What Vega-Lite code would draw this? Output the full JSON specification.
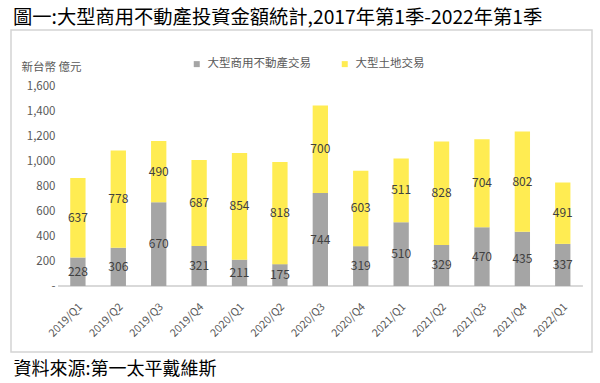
{
  "$schema": "https://vega.github.io/schema/vega-lite/v6.json",
  "width": 581,
  "height": 322,
  "autosize": {"type": "none"},
  "padding": {"left": 11, "top": 30, "right": 8, "bottom": 31},
  "background": "white",
  "config": {
    "font": "Noto Sans CJK TC",
    "view": {"stroke": "#D4D4D4", "strokeWidth": 1.5}
  },
  "title": {
    "text": "圖一:大型商用不動產投資金額統計,2017年第1季-2022年第1季",
    "anchor": "start",
    "frame": "group",
    "fontSize": 19.3,
    "fontWeight": "normal",
    "color": "#000000",
    "font": "Noto Sans CJK TC",
    "offset": 2,
    "dx": 2
  },
  "data": {
    "values": [
      {"quarter": "2019/Q1", "type": "大型商用不動產交易", "value": 228},
      {"quarter": "2019/Q1", "type": "大型土地交易", "value": 637},
      {"quarter": "2019/Q2", "type": "大型商用不動產交易", "value": 306},
      {"quarter": "2019/Q2", "type": "大型土地交易", "value": 778},
      {"quarter": "2019/Q3", "type": "大型商用不動產交易", "value": 670},
      {"quarter": "2019/Q3", "type": "大型土地交易", "value": 490},
      {"quarter": "2019/Q4", "type": "大型商用不動產交易", "value": 321},
      {"quarter": "2019/Q4", "type": "大型土地交易", "value": 687},
      {"quarter": "2020/Q1", "type": "大型商用不動產交易", "value": 211},
      {"quarter": "2020/Q1", "type": "大型土地交易", "value": 854},
      {"quarter": "2020/Q2", "type": "大型商用不動產交易", "value": 175},
      {"quarter": "2020/Q2", "type": "大型土地交易", "value": 818},
      {"quarter": "2020/Q3", "type": "大型商用不動產交易", "value": 744},
      {"quarter": "2020/Q3", "type": "大型土地交易", "value": 700},
      {"quarter": "2020/Q4", "type": "大型商用不動產交易", "value": 319},
      {"quarter": "2020/Q4", "type": "大型土地交易", "value": 603},
      {"quarter": "2021/Q1", "type": "大型商用不動產交易", "value": 510},
      {"quarter": "2021/Q1", "type": "大型土地交易", "value": 511},
      {"quarter": "2021/Q2", "type": "大型商用不動產交易", "value": 329},
      {"quarter": "2021/Q2", "type": "大型土地交易", "value": 828},
      {"quarter": "2021/Q3", "type": "大型商用不動產交易", "value": 470},
      {"quarter": "2021/Q3", "type": "大型土地交易", "value": 704},
      {"quarter": "2021/Q4", "type": "大型商用不動產交易", "value": 435},
      {"quarter": "2021/Q4", "type": "大型土地交易", "value": 802},
      {"quarter": "2022/Q1", "type": "大型商用不動產交易", "value": 337},
      {"quarter": "2022/Q1", "type": "大型土地交易", "value": 491}
    ]
  },
  "transform": [
    {"stack": "value", "groupby": ["quarter"], "sort": [{"field": "type", "order": "ascending"}], "as": ["v0", "v1"]}
  ],
  "encoding": {
    "x": {
      "field": "quarter",
      "type": "nominal",
      "sort": null,
      "scale": {
        "domain": ["2019/Q1","2019/Q2","2019/Q3","2019/Q4","2020/Q1","2020/Q2","2020/Q3","2020/Q4","2021/Q1","2021/Q2","2021/Q3","2021/Q4","2022/Q1"],
        "paddingInner": 0.621,
        "paddingOuter": 1.251,
        "align": 0.733
      },
      "axis": {
        "orient": "bottom",
        "offset": -66,
        "domain": false,
        "ticks": false,
        "tickSize": 0,
        "grid": false,
        "labelAngle": -45,
        "labelAlign": "right",
        "labelBaseline": "middle",
        "labelPadding": 19,
        "labelOffset": 3,
        "labelFont": "Noto Sans CJK TC",
        "labelFontSize": 10.8,
        "labelColor": "#595959",
        "title": "資料來源:第一太平戴維斯",
        "titleAngle": 0,
        "titleX": 2,
        "titleY": 83,
        "titleAlign": "left",
        "titleBaseline": "middle",
        "titleFont": "Noto Sans CJK TC",
        "titleFontSize": 18,
        "titleFontWeight": "normal",
        "titleColor": "#000000"
      }
    }
  },
  "layer": [
    {
      "mark": {"type": "rule", "color": "#D9D9D9", "strokeWidth": 1.5, "xOffset": -19, "x2Offset": 19.5},
      "encoding": {
        "x": {"datum": "2019/Q1"},
        "x2": {"datum": "2022/Q1"},
        "y": {"datum": 0}
      }
    },
    {
      "mark": {"type": "bar"},
      "encoding": {
        "y": {
          "field": "v1",
          "type": "quantitative",
          "scale": {"domain": [-528, 2048], "nice": false, "zero": false},
          "axis": {
            "orient": "left",
            "offset": -44,
            "values": [0, 200, 400, 600, 800, 1000, 1200, 1400, 1600],
            "labelExpr": "datum.value === 0 ? '-\u00a0\u00a0' : format(datum.value, ',')",
            "domain": false,
            "ticks": false,
            "tickSize": 0,
            "labelPadding": 0,
            "grid": false,
            "labelFont": "Noto Sans CJK TC",
            "labelFontSize": 11.5,
            "labelColor": "#595959",
            "title": "新台幣 億元",
            "titleAngle": 0,
            "titleX": -34,
            "titleY": 37,
            "titleAlign": "left",
            "titleBaseline": "middle",
            "titleFont": "Noto Sans CJK TC",
            "titleFontSize": 11.5,
            "titleFontWeight": "normal",
            "titleColor": "#595959"
          }
        },
        "y2": {"field": "v0"},
        "color": {
          "field": "type",
          "type": "nominal",
          "scale": {"domain": ["大型商用不動產交易", "大型土地交易"], "range": ["#A5A5A5", "#FFEC52"]},
          "legend": {
            "orient": "none",
            "legendX": 180,
            "legendY": 28,
            "direction": "horizontal",
            "title": null,
            "symbolType": "square",
            "symbolSize": 36,
            "symbolStrokeWidth": 0,
            "labelFont": "Noto Sans CJK TC",
            "labelFontSize": 11.5,
            "labelColor": "#595959",
            "labelOffset": 5,
            "columnPadding": 28,
            "padding": 0
          }
        }
      }
    },
    {
      "transform": [
        {"fold": ["v0", "v1"], "as": ["edge", "pos"]},
        {"aggregate": [{"op": "mean", "field": "pos", "as": "mid"}, {"op": "max", "field": "value", "as": "val"}], "groupby": ["quarter", "type"]}
      ],
      "mark": {"type": "text", "fontSize": 12, "color": "#404040", "font": "Noto Sans CJK TC"},
      "encoding": {
        "y": {"field": "mid", "type": "quantitative"},
        "text": {"field": "val", "type": "quantitative"},
        "detail": {"field": "type"}
      }
    }
  ]
}
